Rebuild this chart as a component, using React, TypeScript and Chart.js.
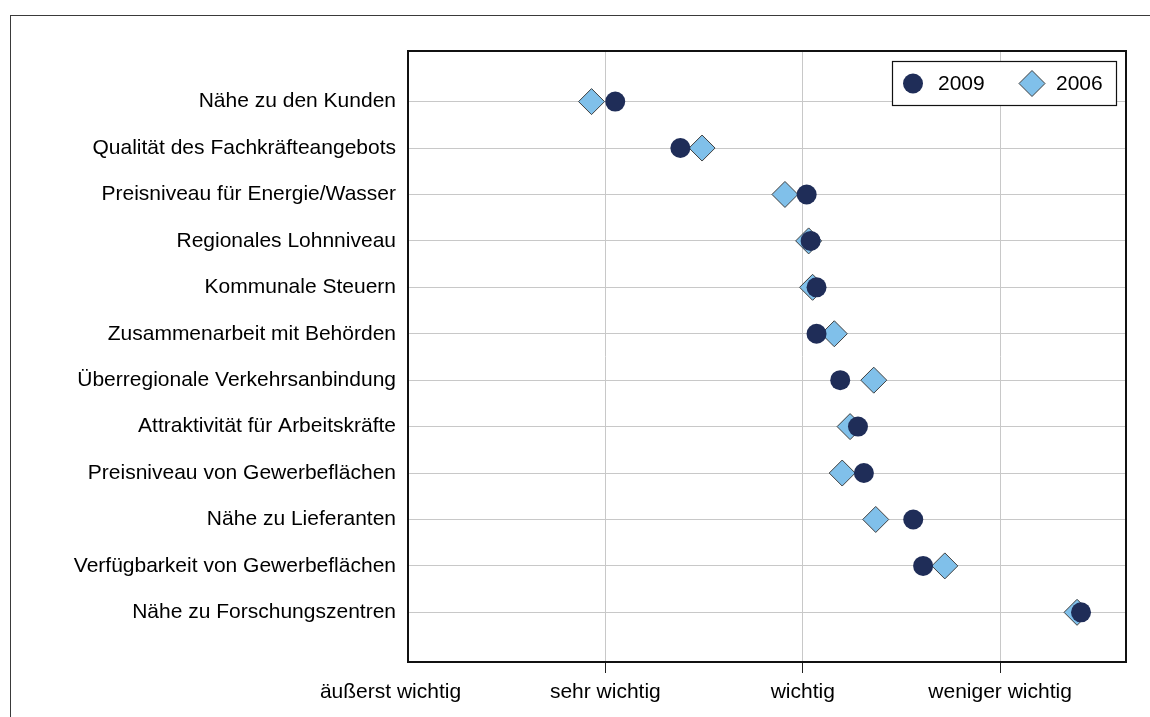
import React, { useEffect, useRef } from 'react';
import { Chart, registerables } from 'chart.js';

Chart.register(...registerables);

const categories = [
  'Nähe zu den Kunden',
  'Qualität des Fachkräfteangebots',
  'Preisniveau für Energie/Wasser',
  'Regionales Lohnniveau',
  'Kommunale Steuern',
  'Zusammenarbeit mit Behörden',
  'Überregionale Verkehrsanbindung',
  'Attraktivität für Arbeitskräfte',
  'Preisniveau von Gewerbeflächen',
  'Nähe zu Lieferanten',
  'Verfügbarkeit von Gewerbeflächen',
  'Nähe zu Forschungszentren',
];

const series2009 = [2.05, 2.38, 3.02, 3.04, 3.07, 3.07, 3.19, 3.28, 3.31, 3.56, 3.61, 4.41];
const series2006 = [1.93, 2.49, 2.91, 3.03, 3.05, 3.16, 3.36, 3.24, 3.2, 3.37, 3.72, 4.39];

const xTickValues = [1, 2, 3, 4];
const xTickLabels = ['äußerst wichtig', 'sehr wichtig', 'wichtig', 'weniger wichtig'];

const FONT = '"Liberation Sans", Arial, sans-serif';
const NAVY = '#1f2d58';
const LIGHT = '#80c0ea';

const framePlugin = {
  id: 'frame',
  beforeDraw(chart: any) {
    const ctx = chart.ctx;
    ctx.save();
    ctx.fillStyle = '#ffffff';
    ctx.fillRect(0, 0, chart.width, chart.height);
    ctx.strokeStyle = '#3a3a3a';
    ctx.lineWidth = 1;
    ctx.strokeRect(10.5, 15.5, chart.width + 20, chart.height + 20);
    ctx.restore();
  },
  afterDatasetsDraw(chart: any) {
    const { ctx, chartArea } = chart;
    ctx.save();
    ctx.strokeStyle = '#111111';
    ctx.lineWidth = 2;
    ctx.strokeRect(chartArea.left, chartArea.top, chartArea.right - chartArea.left, chartArea.bottom - chartArea.top);
    ctx.restore();
  },
  afterDraw(chart: any) {
    const ctx = chart.ctx;
    const ds = chart.data.datasets;
    ctx.save();
    const bx = 892.5, by = 61.5, bw = 224, bh = 44;
    ctx.fillStyle = '#ffffff';
    ctx.fillRect(bx, by, bw, bh);
    ctx.strokeStyle = '#111111';
    ctx.lineWidth = 1.2;
    ctx.strokeRect(bx, by, bw, bh);
    const cy = 83.5;
    // 2009 marker
    ctx.beginPath();
    ctx.arc(913, cy, ds[0].pointRadius, 0, Math.PI * 2);
    ctx.fillStyle = ds[0].backgroundColor;
    ctx.fill();
    // 2006 marker
    const r = ds[1].pointRadius;
    const dx = 1032;
    ctx.beginPath();
    ctx.moveTo(dx - r, cy);
    ctx.lineTo(dx, cy - r);
    ctx.lineTo(dx + r, cy);
    ctx.lineTo(dx, cy + r);
    ctx.closePath();
    ctx.fillStyle = ds[1].backgroundColor;
    ctx.fill();
    ctx.strokeStyle = ds[1].borderColor;
    ctx.lineWidth = ds[1].borderWidth;
    ctx.stroke();
    ctx.fillStyle = '#000000';
    ctx.font = `21px ${FONT}`;
    ctx.textBaseline = 'middle';
    ctx.textAlign = 'left';
    ctx.fillText(ds[0].label, 938, cy + 1);
    ctx.fillText(ds[1].label, 1056, cy + 1);
    ctx.restore();
  },
};

export default function App() {
  const canvasRef = useRef<HTMLCanvasElement | null>(null);

  useEffect(() => {
    const canvas = canvasRef.current;
    if (!canvas) return;
    const chart = new Chart(canvas, {
      type: 'scatter',
      data: {
        datasets: [
          {
            label: '2009',
            data: series2009.map((v, i) => ({ x: v, y: i + 1 })),
            pointStyle: 'circle',
            pointRadius: 10,
            pointHoverRadius: 10,
            backgroundColor: NAVY,
            borderColor: NAVY,
            borderWidth: 0,
          },
          {
            label: '2006',
            data: series2006.map((v, i) => ({ x: v, y: i + 1 })),
            pointStyle: 'rectRot',
            pointRadius: 13,
            pointHoverRadius: 13,
            backgroundColor: LIGHT,
            borderColor: '#404040',
            borderWidth: 1,
          },
        ],
      },
      options: {
        responsive: false,
        animation: false,
        events: [],
        layout: { padding: { left: 0, top: 51, right: 24, bottom: 0 } },
        plugins: {
          legend: { display: false },
          tooltip: { enabled: false },
          title: { display: false },
        },
        scales: {
          x: {
            type: 'linear',
            min: 1,
            max: 4.638,
            border: { display: false },
            grid: {
              color: '#c8c8c8',
              lineWidth: 1,
              drawTicks: true,
              tickLength: 11,
              tickColor: (c: any) => (c.index === 0 ? 'rgba(0,0,0,0)' : '#222222'),
            },
            afterBuildTicks: (scale: any) => {
              scale.ticks = xTickValues.map((v) => ({ value: v }));
            },
            afterFit: (scale: any) => {
              scale.height = 55;
            },
            ticks: {
              autoSkip: false,
              maxRotation: 0,
              minRotation: 0,
              padding: 7,
              color: '#000000',
              font: { family: FONT, size: 21 },
              callback: (value: any, index: number) => {
                const i = xTickValues.indexOf(Number(value));
                const label = i >= 0 ? xTickLabels[i] : '';
                return i === 0 ? label + '      ' : label;
              },
            },
          },
          y: {
            type: 'linear',
            reverse: true,
            min: -0.09,
            max: 13.07,
            border: { display: false },
            grid: {
              color: '#c8c8c8',
              lineWidth: 1,
              drawTicks: false,
            },
            afterBuildTicks: (scale: any) => {
              scale.ticks = categories.map((_, i) => ({ value: i + 1 }));
            },
            afterFit: (scale: any) => {
              scale.width = 408;
            },
            ticks: {
              autoSkip: false,
              padding: 12,
              color: '#000000',
              font: { family: FONT, size: 21 },
              callback: (value: any) => {
                const i = Math.round(Number(value)) - 1;
                return categories[i] ?? '';
              },
            },
          },
        },
      },
      plugins: [framePlugin],
    });
    return () => chart.destroy();
  }, []);

  return (
    <div style={{ position: 'fixed', left: 0, top: 0, width: 1150, height: 717, background: '#fff' }}>
      <canvas ref={canvasRef} width={1150} height={717} style={{ display: 'block', width: 1150, height: 717 }} />
    </div>
  );
}
